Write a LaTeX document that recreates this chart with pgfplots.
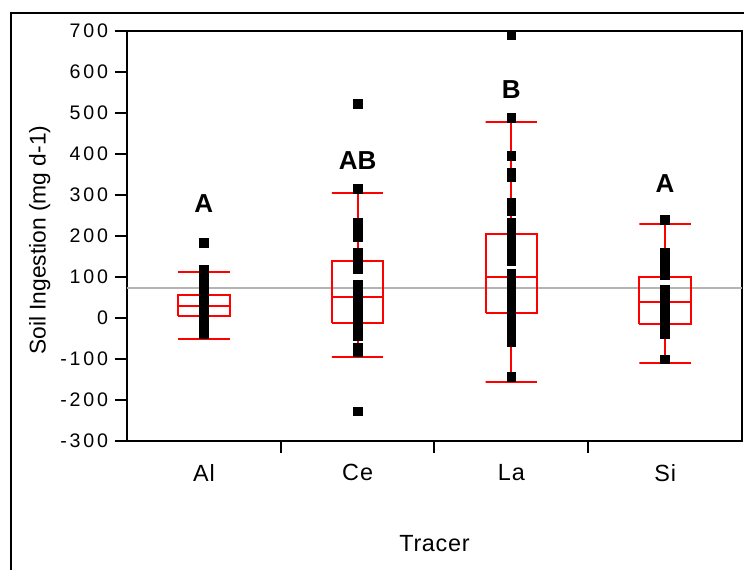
\documentclass[border=0pt]{standalone}
\usepackage{fontspec}
\setmainfont{Liberation Sans}
\newfontfamily\ytickfont[LetterSpace=14]{Liberation Sans}
\newfontfamily\xtickfont[LetterSpace=4]{Liberation Sans}
\newfontfamily\labfont[LetterSpace=3]{Liberation Sans}
\usepackage{pgfplots}
\pgfplotsset{compat=1.18}
\definecolor{refline}{RGB}{180,180,180}
\begin{document}
\begin{tikzpicture}
\useasboundingbox (0,0) rectangle (372pt,284.5pt);
\draw[line width=1.1pt] (5.5pt,-10pt) -- (5.5pt,278pt) -- (400pt,278pt);
\begin{axis}[
  at={(63.5pt,64pt)}, anchor=south west,
  scale only axis, width=307.5pt, height=205pt,
  xmin=-0.5, xmax=3.5, ymin=-300, ymax=700,
  axis line style={line width=1pt},
  tick pos=left, tick align=outside,
  major tick length=6pt,
  every tick/.style={black, line width=1pt},
  ytick={-300,-200,-100,0,100,200,300,400,500,600,700},
  yticklabels={-300,-200,-100,0,100,200,300,400,500,600,700},
  xtick={0.5,1.5,2.5}, xticklabels={,,},
  extra x ticks={0,1,2,3},
  extra x tick labels={Al,Ce,La,Si},
  extra x tick style={major tick length=0pt, xticklabel style={yshift=-8pt}},
  yticklabel style={font=\ytickfont\fontsize{9.8}{11}\selectfont},
  xticklabel style={font=\xtickfont\fontsize{11.7}{13}\selectfont},
  ylabel={Soil Ingestion (mg d-1)},
  ylabel style={at={(axis description cs:-0.142,0.49)}, anchor=center, font=\fontsize{11.4}{13}\selectfont},
  xlabel={Tracer},
  xlabel style={at={(axis description cs:0.5,-0.249)}, anchor=center, font=\labfont\fontsize{11.7}{13}\selectfont},
  clip=false,
]
% reference line
\addplot[refline, line width=1pt] coordinates {(-0.5,72) (3.5,72)};
% Al box
\addplot[red, line width=1pt] coordinates {(-0.1675,5) (0.1675,5) (0.1675,56) (-0.1675,56) (-0.1675,5)};
\addplot[red, line width=1pt] coordinates {(-0.1675,29) (0.1675,29)};
\addplot[red, line width=1pt] coordinates {(0,56) (0,111) (-0.1675,111) (0.1675,111)};
\addplot[red, line width=1pt] coordinates {(0,5) (0,-50) (-0.1675,-50) (0.1675,-50)};
% Ce box
\addplot[red, line width=1pt] coordinates {(0.8325,-12) (1.1675,-12) (1.1675,140) (0.8325,140) (0.8325,-12)};
\addplot[red, line width=1pt] coordinates {(0.8325,51) (1.1675,51)};
\addplot[red, line width=1pt] coordinates {(1,140) (1,306) (0.8325,306) (1.1675,306)};
\addplot[red, line width=1pt] coordinates {(1,-12) (1,-94) (0.8325,-94) (1.1675,-94)};
% La box
\addplot[red, line width=1pt] coordinates {(1.8325,11) (2.1675,11) (2.1675,205) (1.8325,205) (1.8325,11)};
\addplot[red, line width=1pt] coordinates {(1.8325,101) (2.1675,101)};
\addplot[red, line width=1pt] coordinates {(2,205) (2,479) (1.8325,479) (2.1675,479)};
\addplot[red, line width=1pt] coordinates {(2,11) (2,-157) (1.8325,-157) (2.1675,-157)};
% Si box
\addplot[red, line width=1pt] coordinates {(2.8325,-15) (3.1675,-15) (3.1675,100) (2.8325,100) (2.8325,-15)};
\addplot[red, line width=1pt] coordinates {(2.8325,38) (3.1675,38)};
\addplot[red, line width=1pt] coordinates {(3,100) (3,229) (2.8325,229) (3.1675,229)};
\addplot[red, line width=1pt] coordinates {(3,-15) (3,-110) (2.8325,-110) (3.1675,-110)};
% points
\addplot[only marks, mark=square*, mark size=2.2pt, black] coordinates {
(0,184) (0,118) (0,112) (0,106) (0,100) (0,94) (0,88) (0,82) (0,76) (0,70) (0,64) (0,58) (0,52) (0,46) (0,40) (0,34) (0,28) (0,22) (0,16) (0,10) (0,4) (0,-2) (0,-8) (0,-14) (0,-20) (0,-26) (0,-32) (0,-38)
};
\addplot[only marks, mark=square*, mark size=2.2pt, black] coordinates {
(1,522) (1,315) (1,232) (1,207) (1,198) (1,159) (1,145) (1,132) (1,120)
(1,82) (1,72) (1,62) (1,52) (1,42) (1,32) (1,22) (1,12) (1,2) (1,-8) (1,-18) (1,-28) (1,-36) (1,-43)
(1,-73) (1,-83) (1,-228)
};
\addplot[only marks, mark=square*, mark size=2.2pt, black] coordinates {
(2,690) (2,489) (2,395) (2,354) (2,343) (2,281) (2,270) (2,262)
(2,233) (2,222) (2,211) (2,200) (2,190) (2,180) (2,168) (2,150) (2,140)
(2,108) (2,98) (2,88) (2,78) (2,68) (2,58) (2,48) (2,38) (2,28) (2,18) (2,8) (2,-2) (2,-12) (2,-22) (2,-32) (2,-42) (2,-52) (2,-59)
(2,-144)
};
\addplot[only marks, mark=square*, mark size=2.2pt, black] coordinates {
(3,239) (3,159) (3,148) (3,137) (3,126) (3,115) (3,104)
(3,70) (3,60) (3,50) (3,40) (3,30) (3,20) (3,10) (3,0) (3,-10) (3,-20) (3,-30) (3,-38)
(3,-101)
};
% group letters
\node[font=\bfseries\fontsize{13}{15}\selectfont] at (axis cs:0,280) {A};
\node[font=\bfseries\fontsize{13}{15}\selectfont] at (axis cs:1,385) {AB};
\node[font=\bfseries\fontsize{13}{15}\selectfont] at (axis cs:2,556) {B};
\node[font=\bfseries\fontsize{13}{15}\selectfont] at (axis cs:3,329) {A};
\end{axis}
\end{tikzpicture}
\end{document}
